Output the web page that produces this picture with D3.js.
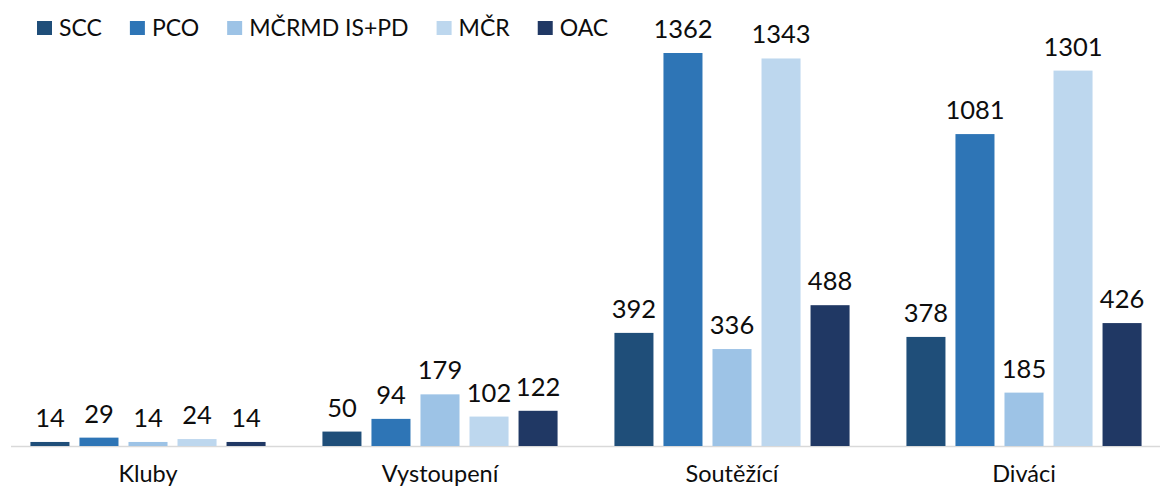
<!DOCTYPE html>
<html>
<head>
<meta charset="utf-8">
<script src="https://cdn.jsdelivr.net/npm/d3@7"></script>
<style>
  html, body { margin: 0; padding: 0; background: #fff; }
  svg { display: block; font-family: Lato, "Open Sans", sans-serif; }
</style>
</head>
<body>
<svg id="chart" width="1160" height="491"></svg>
<script>
const categories = ["Kluby", "Vystoupení", "Soutěžící", "Diváci"];
const seriesNames = ["SCC", "PCO", "MČRMD IS+PD", "MČR", "OAC"];
const seriesColors = ["#1F4E79", "#2E75B6", "#9DC3E6", "#BDD7EE", "#203864"];
const SCC = [14, 50, 392, 378];
const PCO = [29, 94, 1362, 1081];
const MCRMD = [14, 179, 336, 185];
const MCR = [24, 102, 1343, 1301];
const OAC = [14, 122, 488, 426];
const seriesValues = [SCC, PCO, MCRMD, MCR, OAC];

const svg = d3.select("#chart");
const baseY = 446;

const x0 = d3.scaleBand().domain(categories).range([2, 1170]).paddingInner(0).paddingOuter(0);
const x1 = d3.scaleBand().domain(seriesNames).range([0, x0.bandwidth()]).paddingInner(0.204).paddingOuter(0.58);
const y = d3.scaleLinear().domain([0, 1400]).range([baseY, baseY - 1400 * 393 / 1362]);

// axis line
svg.append("line")
  .attr("x1", 11).attr("x2", 1160)
  .attr("y1", baseY + 0.5).attr("y2", baseY + 0.5)
  .attr("stroke", "#d9d9d9").attr("stroke-width", 1.5);

const data = [];
categories.forEach((c, ci) => {
  seriesNames.forEach((s, si) => {
    data.push({ cat: c, ser: s, value: seriesValues[si][ci], color: seriesColors[si] });
  });
});

const g = svg.append("g");
g.selectAll("rect.bar").data(data).join("rect")
  .attr("class", "bar")
  .attr("x", d => x0(d.cat) + x1(d.ser))
  .attr("width", x1.bandwidth())
  .attr("y", d => y(d.value))
  .attr("height", d => y(0) - y(d.value))
  .attr("fill", d => d.color);

g.selectAll("text.val").data(data).join("text")
  .attr("class", "val")
  .attr("x", d => x0(d.cat) + x1(d.ser) + x1.bandwidth() / 2)
  .attr("y", d => y(d.value) - 15)
  .attr("text-anchor", "middle")
  .attr("font-size", 25.5)
  .attr("fill", "#0d0d0d")
  .text(d => d.value);

// category labels via axis
const xAxis = d3.axisBottom(x0).tickSize(0).tickPadding(0);
const ax = svg.append("g").attr("transform", `translate(0, ${baseY})`).call(xAxis);
ax.select(".domain").remove();
ax.selectAll("text")
  .attr("font-family", "Lato, 'Open Sans', sans-serif")
  .attr("font-size", 23.5)
  .attr("fill", "#0d0d0d")
  .attr("dy", null)
  .attr("y", 36);

// legend
const legend = svg.append("g");
let lx = 37;
seriesNames.forEach((s, i) => {
  const item = legend.append("g");
  item.append("rect").attr("x", lx).attr("y", 21).attr("width", 15).attr("height", 14).attr("fill", seriesColors[i]);
  const t = item.append("text").attr("x", lx + 22).attr("y", 36)
    .attr("font-size", 23).attr("fill", "#0d0d0d").text(s);
  lx += 22 + t.node().getComputedTextLength() + 28;
});
</script>
</body>
</html>
